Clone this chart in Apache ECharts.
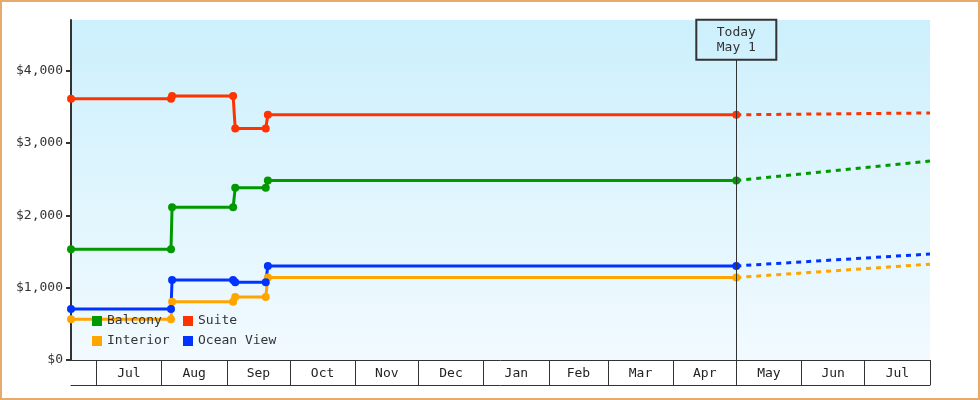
<!DOCTYPE html>
<html>
<head>
<meta charset="utf-8">
<script src="https://cdn.jsdelivr.net/npm/echarts@6/dist/echarts.min.js"></script>
<style>
  html, body { margin: 0; padding: 0; background: #fff; }
  #frame { width: 980px; height: 400px; box-sizing: border-box; border: 2px solid #e6aa6e; position: relative; }
  #chart { position: absolute; left: -2px; top: -2px; width: 980px; height: 400px; }
</style>
</head>
<body>
<div id="frame"><div id="chart"></div></div>
<script>
// ---- data ----
const axisStart = '2018-06-19';
const axisEnd = '2019-08-01';
const today = '2019-05-01';
const monthStarts = ['2018-07-01','2018-08-01','2018-09-01','2018-10-01','2018-11-01','2018-12-01',
  '2019-01-01','2019-02-01','2019-03-01','2019-04-01','2019-05-01','2019-06-01','2019-07-01','2019-08-01'];
const monthNames = ['Jan','Feb','Mar','Apr','May','Jun','Jul','Aug','Sep','Oct','Nov','Dec'];
const yTicks = [0, 1000, 2000, 3000, 4000];

const priceDates = ['2018-06-19','2018-08-05 12:00','2018-08-06','2018-09-04','2018-09-05',
  '2018-09-19 12:00','2018-09-20 12:00','2019-05-01'];
const balcony   = [1530, 1530, 2110, 2110, 2380, 2380, 2480, 2480];
const suite     = [3610, 3610, 3650, 3650, 3200, 3200, 3390, 3390];
const interior  = [565, 565, 805, 805, 870, 870, 1140, 1140];
const oceanView = [705, 705, 1105, 1105, 1075, 1075, 1300, 1300];

const forecastDates = ['2019-05-01', '2019-08-01'];
const balconyForecast   = [2480, 2750];
const suiteForecast     = [3390, 3415];
const interiorForecast  = [1140, 1325];
const oceanViewForecast = [1300, 1465];

// ---- helpers ----
const ts = s => echarts.time.parse(s).getTime();
const pair = (dates, vals) => dates.map((d, i) => [ts(d), vals[i]]);
const monthTicks = monthStarts.map(ts);
const monthMids = monthTicks.slice(0, -1).map((t, i) => (t + monthTicks[i + 1]) / 2);
const fmtMoney = v => '$' + String(v).replace(/\B(?=(\d{3})+(?!\d))/g, ',');

const FONT = 'DejaVu Sans Mono';
const TXT = '#333';
const colors = { Balcony: '#009900', Suite: '#ff3300', Interior: '#ffa500', 'Ocean View': '#0033ff' };

function solid(name, vals, extra) {
  return Object.assign({
    name, type: 'line', data: pair(priceDates, vals),
    symbol: 'circle', symbolSize: 8, showSymbol: true,
    itemStyle: { color: colors[name] },
    lineStyle: { color: colors[name], width: 3 },
    emphasis: { disabled: true }, z: 3
  }, extra || {});
}
function dashed(name, vals) {
  return {
    name, type: 'line', data: pair(forecastDates, vals),
    showSymbol: false, symbol: 'none',
    itemStyle: { color: colors[name] },
    lineStyle: { color: colors[name], width: 3, type: [5, 5] },
    emphasis: { disabled: true }, z: 2
  };
}

const chart = echarts.init(document.getElementById('chart'), null, { renderer: 'canvas' });
const legendCommon = {
  orient: 'vertical', top: 314, padding: 0,
  icon: 'rect', itemWidth: 10, itemHeight: 10, itemGap: 6, selectedMode: false,
  textStyle: { color: TXT, fontSize: 13, fontFamily: FONT, lineHeight: 14 }
};
const option = {
  animation: false,
  textStyle: { fontFamily: FONT },
  grid: {
    left: 71, right: 50, top: 20, bottom: 40, show: true, borderWidth: 0,
    backgroundColor: new echarts.graphic.LinearGradient(0, 0, 0, 1, [
      { offset: 0, color: '#ccf0fc' }, { offset: 1, color: '#f2faff' }
    ])
  },
  xAxis: [{
    type: 'value', position: 'bottom', min: ts(axisStart), max: ts(axisEnd),
    axisLine: { show: true, onZero: false, lineStyle: { color: TXT, width: 1 } },
    axisTick: { show: true, inside: false, length: 25, customValues: monthTicks, lineStyle: { color: TXT, width: 1 } },
    axisLabel: {
      show: true, customValues: monthMids, margin: 7, color: '#222', fontSize: 13, fontFamily: FONT,
      formatter: v => monthNames[new Date(v).getMonth()], hideOverlap: false
    },
    splitLine: { show: false }
  }, {
    type: 'value', position: 'bottom', offset: 25, min: ts(axisStart), max: ts(axisEnd),
    axisLine: { show: true, onZero: false, lineStyle: { color: TXT, width: 1 } },
    axisTick: { show: false }, axisLabel: { show: false }, splitLine: { show: false }
  }],
  yAxis: {
    type: 'value', min: 0, max: 4700, interval: 1000,
    axisLine: { show: true, lineStyle: { color: TXT, width: 2 } },
    axisTick: { show: true, length: 5, customValues: yTicks, lineStyle: { color: TXT, width: 2 } },
    axisLabel: { customValues: yTicks, margin: 8, color: TXT, fontSize: 13, fontFamily: FONT, formatter: fmtMoney },
    splitLine: { show: false }
  },
  legend: [
    Object.assign({ data: ['Balcony', 'Interior'], left: 92 }, legendCommon),
    Object.assign({ data: ['Suite', 'Ocean View'], left: 183 }, legendCommon)
  ],
  series: [
    dashed('Interior', interiorForecast),
    dashed('Balcony', balconyForecast),
    dashed('Ocean View', oceanViewForecast),
    dashed('Suite', suiteForecast),
    solid('Interior', interior),
    solid('Balcony', balcony),
    solid('Ocean View', oceanView),
    solid('Suite', suite, {
      markLine: {
        silent: true, symbol: ['none', 'none'], animation: false,
        lineStyle: { color: TXT, width: 1, type: 'solid' },
        label: {
          show: true, position: 'end', distance: 0, formatter: 'Today\nMay 1',
          color: TXT, fontSize: 13, fontFamily: FONT, lineHeight: 15,
          borderColor: TXT, borderWidth: 1, width: 80, align: 'center',
          padding: [5, 0, 5, 0], backgroundColor: 'transparent'
        },
        data: [[{ coord: [ts(today), 0] }, { coord: [ts(today), 4150] }]]
      }
    })
  ]
};
chart.setOption(option);
</script>
</body>
</html>
